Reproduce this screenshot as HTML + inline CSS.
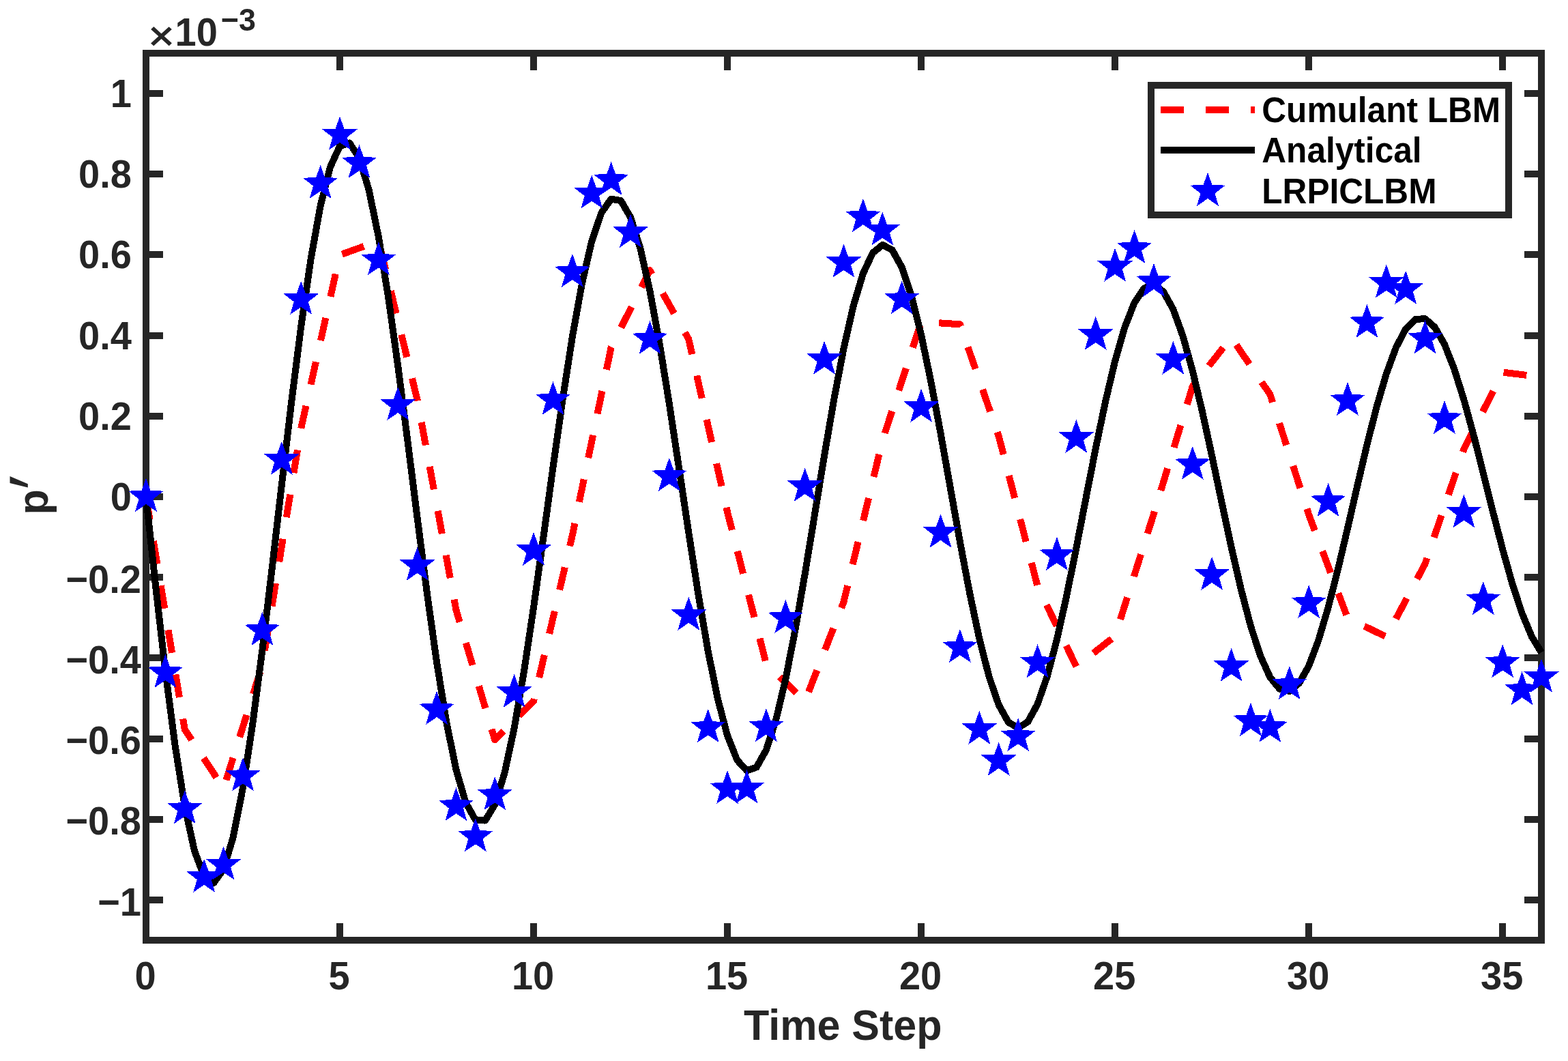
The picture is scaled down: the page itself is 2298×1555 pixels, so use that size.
<!DOCTYPE html>
<html lang="en">
<head>
<meta charset="utf-8">
<title>Pressure perturbation vs time step</title>
<style>
html,body{margin:0;padding:0;background:#ffffff;}
body{width:2298px;height:1555px;overflow:hidden;}
svg{display:block;}
text{font-family:"Liberation Sans", Arial, Helvetica, sans-serif;font-weight:bold;}
.tk{font-size:56px;fill:#262626;}
.lb{font-size:61px;fill:#262626;}
.lg{font-size:49.6px;fill:#000000;}
</style>
</head>
<body>
<svg xmlns="http://www.w3.org/2000/svg" width="2298" height="1555" viewBox="0 0 2298 1555">
<rect x="0" y="0" width="2298" height="1555" fill="#ffffff"/>
<g id="axes" stroke="#262626" stroke-width="10" fill="none" stroke-linecap="butt" shape-rendering="crispEdges">
<rect x="214" y="78" width="2045" height="1300"/>
<path d="M214 1378V1353M214 78V103M498.03 1378V1353M498.03 78V103M782.06 1378V1353M782.06 78V103M1066.08 1378V1353M1066.08 78V103M1350.11 1378V1353M1350.11 78V103M1634.14 1378V1353M1634.14 78V103M1918.17 1378V1353M1918.17 78V103M2202.19 1378V1353M2202.19 78V103M214 1318.91H239M2259 1318.91H2234M214 1200.73H239M2259 1200.73H2234M214 1082.55H239M2259 1082.55H2234M214 964.36H239M2259 964.36H2234M214 846.18H239M2259 846.18H2234M214 728H239M2259 728H2234M214 609.82H239M2259 609.82H2234M214 491.64H239M2259 491.64H2234M214 373.45H239M2259 373.45H2234M214 255.27H239M2259 255.27H2234M214 137.09H239M2259 137.09H2234"/>
</g>
<g id="xticklabels">
<text class="tk" text-anchor="middle" transform="translate(213 1449.9) scale(1 1.04)">0</text>
<text class="tk" text-anchor="middle" transform="translate(497.03 1449.9) scale(1 1.04)">5</text>
<text class="tk" text-anchor="middle" transform="translate(781.06 1449.9) scale(1 1.04)">10</text>
<text class="tk" text-anchor="middle" transform="translate(1065.08 1449.9) scale(1 1.04)">15</text>
<text class="tk" text-anchor="middle" transform="translate(1349.11 1449.9) scale(1 1.04)">20</text>
<text class="tk" text-anchor="middle" transform="translate(1633.14 1449.9) scale(1 1.04)">25</text>
<text class="tk" text-anchor="middle" transform="translate(1917.17 1449.9) scale(1 1.04)">30</text>
<text class="tk" text-anchor="middle" transform="translate(2201.19 1449.9) scale(1 1.04)">35</text>
</g>
<g id="yticklabels">
<text class="tk" text-anchor="end" transform="translate(192.84 156.99) scale(1 1.04)">1</text>
<text class="tk" text-anchor="end" transform="translate(192.84 275.17) scale(1 1.04)">0.8</text>
<text class="tk" text-anchor="end" transform="translate(192.84 393.35) scale(1 1.04)">0.6</text>
<text class="tk" text-anchor="end" transform="translate(192.84 511.54) scale(1 1.04)">0.4</text>
<text class="tk" text-anchor="end" transform="translate(192.84 629.72) scale(1 1.04)">0.2</text>
<text class="tk" text-anchor="end" transform="translate(192.84 747.9) scale(1 1.04)">0</text>
<text class="tk" text-anchor="end" transform="translate(206.9 868.88) scale(1 1.04)">−0.2</text>
<text class="tk" text-anchor="end" transform="translate(206.9 987.06) scale(1 1.04)">−0.4</text>
<text class="tk" text-anchor="end" transform="translate(206.9 1105.25) scale(1 1.04)">−0.6</text>
<text class="tk" text-anchor="end" transform="translate(206.9 1223.43) scale(1 1.04)">−0.8</text>
<text class="tk" text-anchor="end" transform="translate(206.9 1341.61) scale(1 1.04)">−1</text>
</g>
<g id="exponent">
<text class="tk" text-anchor="start" transform="translate(217.4 73.2) scale(1 0.9)" style="font-weight:normal;font-size:65px" stroke="#262626" stroke-width="1.3">×</text>
<text class="tk" text-anchor="start" transform="translate(256.5 66.9) scale(1 1.04)">10</text>
<text class="tk" text-anchor="start" transform="translate(323.8 45.2) scale(1 1.04)" style="font-size:44.8px">−3</text>
</g>
<text class="lb" text-anchor="start" transform="translate(1090.06 1524) scale(1 1.04)">Time Step</text>
<g id="ylabel" transform="translate(70.3 754.5) rotate(-90)">
<text class="lb" transform="scale(1 1.04)">p</text>
<text class="lb" transform="translate(30.25 15.6) skewX(-7)" style="font-weight:normal;font-size:104px">′</text>
</g>
<g id="series" fill="none" stroke-linejoin="round" stroke-linecap="butt" shape-rendering="crispEdges">
<polyline id="cumulant" stroke="#ff0000" stroke-width="10" stroke-dasharray="34 32" stroke-dashoffset="0" points="214,728 270.81,1069.01 327.61,1155.46 384.42,974.7 441.22,627.49 498.03,373.75 554.83,353.25 611.64,586.06 668.44,893.99 725.25,1084.32 782.06,1027.53 838.86,784.2 895.67,508.95 952.47,396.38 1009.28,497.07 1066.08,750.57 1122.89,972.75 1179.69,1027.65 1236.5,882.11 1293.31,645.51 1350.11,471.55 1406.92,475.33 1463.72,639.3 1520.53,858.95 1577.33,976.89 1634.14,932.4 1690.94,752.94 1747.75,566.39 1804.56,494.71 1861.36,578.03 1918.17,754.41 1974.97,905.75 2031.78,933.4 2088.58,826.33 2145.39,658.51 2202.19,545.65 2259,552.5"/>
<polyline id="analytical" stroke="#000000" stroke-width="10" points="214,728 228.2,859.97 242.4,983.6 256.6,1092.72 270.81,1181.94 285.01,1246.97 299.21,1284.8 313.41,1293.84 327.61,1273.98 341.81,1226.59 356.01,1154.42 370.22,1061.44 384.42,952.64 398.62,833.74 412.82,710.93 427.02,590.49 441.22,478.52 455.42,380.62 469.62,301.6 483.83,245.23 498.03,214.12 512.23,209.54 526.43,231.38 540.63,278.23 554.83,347.38 569.03,435.04 583.24,536.53 597.44,646.52 611.64,759.3 625.84,869.11 640.04,970.39 654.24,1058.09 668.44,1127.93 682.65,1176.56 696.85,1201.78 711.05,1202.58 725.25,1179.23 739.45,1133.21 753.65,1067.14 767.85,984.63 782.06,890.08 796.26,788.44 810.46,684.97 824.66,584.96 838.86,493.46 853.06,415.01 867.26,353.45 881.47,311.7 895.67,291.64 909.87,294.02 924.07,318.46 938.27,363.42 952.47,426.39 966.67,503.92 980.88,591.91 995.08,685.74 1009.28,780.56 1023.48,871.55 1037.68,954.12 1051.88,1024.17 1066.08,1078.29 1080.28,1113.93 1094.49,1129.5 1108.69,1124.45 1122.89,1099.3 1137.09,1055.56 1151.29,995.7 1165.49,922.95 1179.69,841.18 1193.9,754.65 1208.1,667.83 1222.3,585.14 1236.5,510.73 1250.7,448.28 1264.9,400.84 1279.1,370.62 1293.31,358.95 1307.51,366.2 1321.71,391.77 1335.91,434.12 1350.11,490.91 1364.31,559.07 1378.51,634.98 1392.72,714.69 1406.92,794.1 1421.12,869.18 1435.32,936.15 1449.52,991.7 1463.72,1033.17 1477.92,1058.59 1492.12,1066.89 1506.33,1057.84 1520.53,1032.13 1534.73,991.26 1548.93,937.49 1563.13,873.73 1577.33,803.34 1591.53,729.98 1605.74,657.42 1619.94,589.34 1634.14,529.15 1648.34,479.81 1662.54,443.71 1676.74,422.51 1690.94,417.12 1705.15,427.6 1719.35,453.24 1733.55,492.55 1747.75,543.35 1761.95,602.91 1776.15,668.12 1790.35,735.56 1804.56,801.8 1818.76,863.47 1832.96,917.49 1847.16,961.2 1861.36,992.52 1875.56,1009.99 1889.76,1012.91 1903.97,1001.29 1918.17,975.91 1932.37,938.24 1946.57,890.33 1960.77,834.74 1974.97,774.42 1989.17,712.47 2003.38,652.07 2017.58,596.27 2031.78,547.86 2045.98,509.21 2060.18,482.17 2074.38,467.96 2088.58,467.16 2102.78,479.63 2116.99,504.59 2131.19,540.61 2145.39,585.72 2159.59,637.51 2173.79,693.27 2187.99,750.12 2202.19,805.14 2216.4,855.56 2230.6,898.87 2244.8,932.96 2259,956.2"/>
</g>
<defs><polygon id="st" points="0,-27.1 6.53,-8.99 25.77,-8.37 10.57,3.43 15.93,21.92 0,11.11 -15.93,21.92 -10.57,3.43 -25.77,-8.37 -6.53,-8.99"/></defs>
<g id="lrpiclbm" fill="#0000ff" shape-rendering="crispEdges">
<use href="#st" x="214" y="728"/><use href="#st" x="242.4" y="986"/><use href="#st" x="270.81" y="1185.4"/><use href="#st" x="299.21" y="1285.8"/><use href="#st" x="327.61" y="1267.5"/><use href="#st" x="356.01" y="1137.4"/><use href="#st" x="384.42" y="924"/><use href="#st" x="412.82" y="673.8"/><use href="#st" x="441.22" y="438.9"/><use href="#st" x="469.62" y="269.1"/><use href="#st" x="498.03" y="197.8"/><use href="#st" x="526.43" y="239.1"/><use href="#st" x="554.83" y="381.2"/><use href="#st" x="583.24" y="593.9"/><use href="#st" x="611.64" y="828.9"/><use href="#st" x="640.04" y="1040"/><use href="#st" x="668.44" y="1181.2"/><use href="#st" x="696.85" y="1226.2"/><use href="#st" x="725.25" y="1165.3"/><use href="#st" x="753.65" y="1014.9"/><use href="#st" x="782.06" y="806.9"/><use href="#st" x="810.46" y="586.1"/><use href="#st" x="838.86" y="399"/><use href="#st" x="867.26" y="283.7"/><use href="#st" x="895.67" y="264.1"/><use href="#st" x="924.07" y="340.9"/><use href="#st" x="952.47" y="497"/><use href="#st" x="980.88" y="698"/><use href="#st" x="1009.28" y="901.8"/><use href="#st" x="1037.68" y="1066.3"/><use href="#st" x="1066.08" y="1156.1"/><use href="#st" x="1094.49" y="1155.5"/><use href="#st" x="1122.89" y="1065.3"/><use href="#st" x="1151.29" y="906"/><use href="#st" x="1179.69" y="712.9"/><use href="#st" x="1208.1" y="526.7"/><use href="#st" x="1236.5" y="384.8"/><use href="#st" x="1264.9" y="318.1"/><use href="#st" x="1293.31" y="337.6"/><use href="#st" x="1321.71" y="438.4"/><use href="#st" x="1350.11" y="596.9"/><use href="#st" x="1378.51" y="780.7"/><use href="#st" x="1406.92" y="949.1"/><use href="#st" x="1435.32" y="1068.8"/><use href="#st" x="1463.72" y="1114.9"/><use href="#st" x="1492.12" y="1079.2"/><use href="#st" x="1520.53" y="971.3"/><use href="#st" x="1548.93" y="814"/><use href="#st" x="1577.33" y="641.8"/><use href="#st" x="1605.74" y="490.9"/><use href="#st" x="1634.14" y="390.8"/><use href="#st" x="1662.54" y="364.1"/><use href="#st" x="1690.94" y="413"/><use href="#st" x="1719.35" y="526.8"/><use href="#st" x="1747.75" y="681"/><use href="#st" x="1776.15" y="842.9"/><use href="#st" x="1804.56" y="976.9"/><use href="#st" x="1832.96" y="1057"/><use href="#st" x="1861.36" y="1066"/><use href="#st" x="1889.76" y="1003.3"/><use href="#st" x="1918.17" y="884.1"/><use href="#st" x="1946.57" y="735"/><use href="#st" x="1974.97" y="587.1"/><use href="#st" x="2003.38" y="473"/><use href="#st" x="2031.78" y="414.7"/><use href="#st" x="2060.18" y="423.9"/><use href="#st" x="2088.58" y="496.3"/><use href="#st" x="2116.99" y="614.1"/><use href="#st" x="2145.39" y="751.5"/><use href="#st" x="2173.79" y="879.2"/><use href="#st" x="2202.19" y="971.3"/><use href="#st" x="2230.6" y="1011.3"/><use href="#st" x="2259" y="992.7"/>
</g>
<g id="legend" shape-rendering="crispEdges">
<rect x="1687" y="125" width="524" height="190" fill="#ffffff" stroke="#262626" stroke-width="10" shape-rendering="crispEdges"/>
<line x1="1701" y1="161" x2="1839" y2="161" stroke="#ff0000" stroke-width="10" stroke-dasharray="34 32"/>
<line x1="1701" y1="220" x2="1839" y2="220" stroke="#000000" stroke-width="10"/>
<use href="#st" x="1770" y="280" fill="#0000ff"/>
<text class="lg" text-anchor="start" transform="translate(1849.3 179.2) scale(1 1.04)">Cumulant LBM</text>
<text class="lg" text-anchor="start" transform="translate(1849.3 238) scale(1 1.04)">Analytical</text>
<text class="lg" text-anchor="start" transform="translate(1849.3 297.9) scale(1 1.04)">LRPICLBM</text>
</g>
</svg>
</body>
</html>
